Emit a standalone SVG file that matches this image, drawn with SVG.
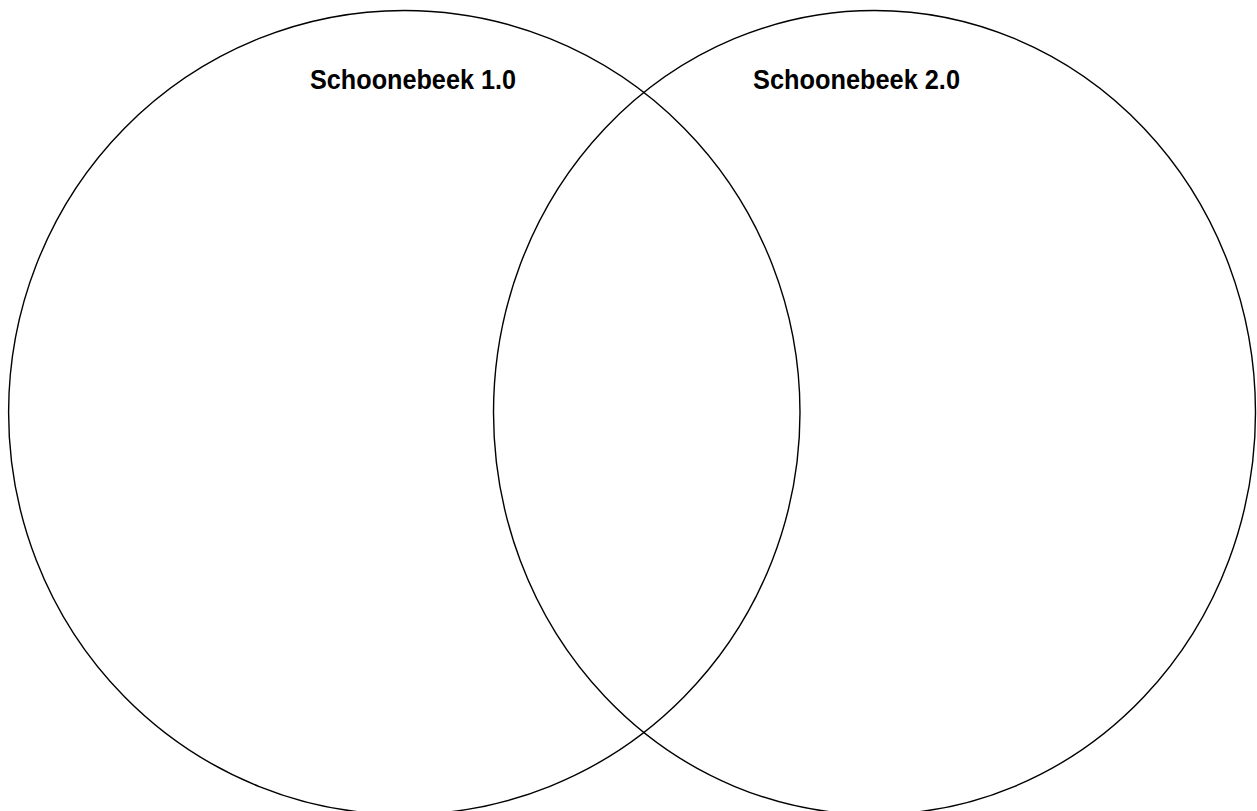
<svg xmlns="http://www.w3.org/2000/svg" width="1257" height="811" viewBox="0 0 1257 811">
<style>
.set{fill:none;stroke:#000;stroke-width:1.4}
.lbl{font-family:"Liberation Sans",Arial,sans-serif;font-weight:bold;font-size:27px;fill:#000}
</style>
<rect width="1257" height="811" fill="#fff"/>
<g id="set1">
<ellipse class="set" cx="404.3" cy="412.5" rx="395.7" ry="402"/>
<text class="lbl" x="310" y="89" textLength="206" lengthAdjust="spacingAndGlyphs">Schoonebeek 1.0</text>
</g>
<g id="set2">
<ellipse class="set" cx="874.5" cy="412.5" rx="381" ry="402"/>
<text class="lbl" x="753" y="89" textLength="207" lengthAdjust="spacingAndGlyphs">Schoonebeek 2.0</text>
</g>
<g id="connectors"/>
</svg>
